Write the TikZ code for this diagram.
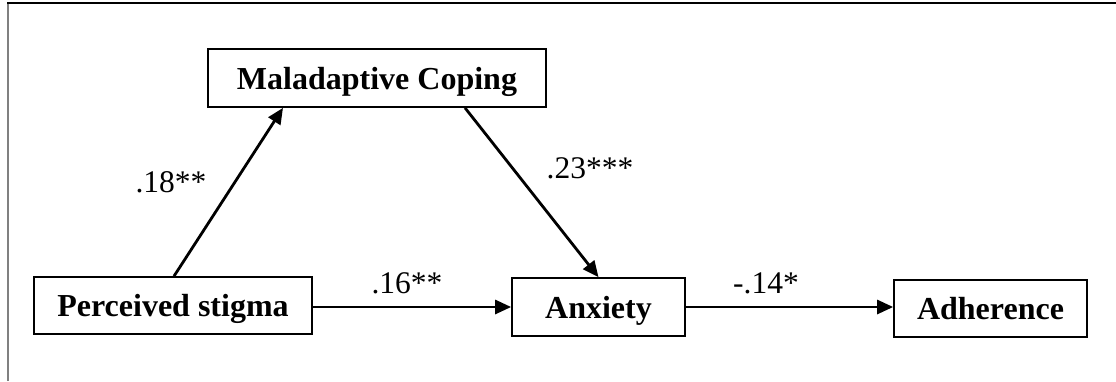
\documentclass[tikz,border=0pt]{standalone}
\usepackage{fontspec}
\setmainfont{Liberation Serif}
\usetikzlibrary{arrows.meta}
\begin{document}
\begin{tikzpicture}[x=1pt,y=-1pt,
  box/.style={draw, line width=1.7pt, inner sep=0pt, text height=22pt, text depth=0pt,
    font=\fontsize{32}{36}\selectfont\bfseries},
  lbl/.style={anchor=base, inner sep=0pt, font=\fontsize{31.5}{36}\selectfont},
  arr/.style={line width=2.8pt, -{Triangle[length=16pt,width=14pt]}},
  frame/.style={line width=1.6pt}]
\useasboundingbox (0,0) rectangle (1116,381);
% frame
\draw[frame, gray] (8,381) -- (8,3);
\draw[frame] (7,3) -- (1116,3);
% boxes
\node[box, minimum width=338pt, minimum height=58pt] (mc) at (377,78) {Maladaptive Coping};
\node[box, minimum width=278pt, minimum height=57pt] (ps) at (173,305.5) {Perceived stigma};
\node[box, minimum width=173pt, minimum height=58pt] (anx) at (598.5,307) {Anxiety};
\node[box, minimum width=193pt, minimum height=57pt] (adh) at (990.5,308.5) {Adherence};
% connectors
\draw[arr] ([xshift=1pt]ps.north) -- ([xshift=-94pt]mc.south);
\draw[arr] ([xshift=88pt]mc.south) -- (anx.north);
\draw[arr] (ps.east |- anx.west) -- (anx.west);
\draw[arr] (anx.east) -- (anx.east -| adh.west);
% labels
\node[lbl] (l18) at (171,192) {.18**};
\node[lbl] (l23) at (590,178) {.23***};
\node[lbl] (l16) at (407,293) {.16**};
\node[lbl] (l14) at (766,293) {-.14*};
\end{tikzpicture}
\end{document}
